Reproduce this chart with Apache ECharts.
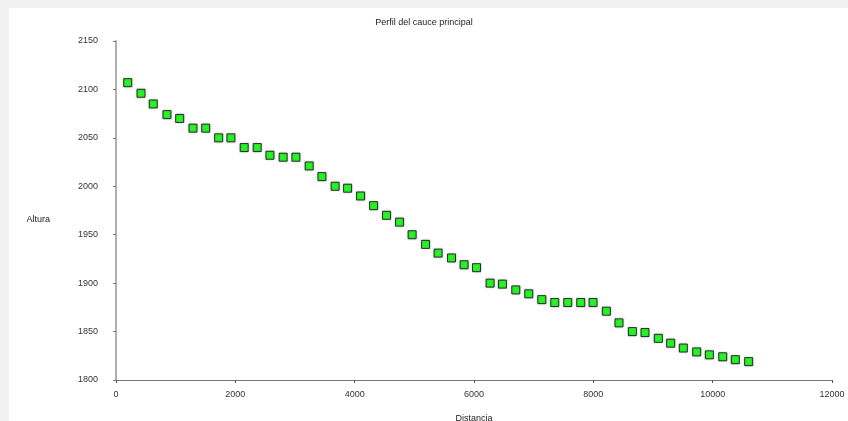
<!DOCTYPE html>
<html>
<head>
<meta charset="utf-8">
<script src="https://cdn.jsdelivr.net/npm/echarts@6/dist/echarts.min.js"></script>
<style>
html,body{margin:0;padding:0;background:#f1f1f1;}
#chart{width:848px;height:421px;}
</style>
</head>
<body>
<div id="chart"></div>
<script>
var distancia = [196, 419, 625, 854, 1067, 1290, 1503, 1720, 1926, 2149,
  2367, 2580, 2802, 3015, 3238, 3451, 3673, 3881, 4099, 4317,
  4534, 4752, 4963, 5188, 5399, 5623, 5834, 6042, 6270, 6477,
  6700, 6918, 7136, 7353, 7571, 7789, 7995, 8219, 8430, 8655,
  8866, 9090, 9296, 9509, 9732, 9945, 10168, 10380, 10603];
var altura = [2107, 2096, 2085, 2074, 2070, 2060, 2060, 2050, 2050, 2040,
  2040, 2032, 2030, 2030, 2021, 2010, 2000, 1998, 1990, 1980,
  1970, 1963, 1950, 1940, 1931, 1926, 1919, 1916, 1900, 1899,
  1893, 1889, 1883, 1880, 1880, 1880, 1880, 1871, 1859, 1850,
  1849, 1843, 1838, 1833, 1829, 1826, 1824, 1821, 1819];
var xTicks = [0, 2000, 4000, 6000, 8000, 10000, 12000];
var yTicks = [1800, 1850, 1900, 1950, 2000, 2050, 2100, 2150];

var points = distancia.map(function (d, i) { return [d, altura[i]]; });
var chart = echarts.init(document.getElementById('chart'));
chart.setOption({
  backgroundColor: '#f1f1f1',
  animation: false,
  graphic: [{
    type: 'rect', z: -10, silent: true,
    shape: { x: 9, y: 8, width: 839, height: 413 },
    style: { fill: '#ffffff' }
  }],
  title: {
    text: 'Perfil del cauce principal',
    left: 'center', top: 13,
    textStyle: { fontFamily: 'Liberation Sans', fontSize: 9, fontWeight: 'normal', color: '#222' }
  },
  grid: { left: 116, right: 16, top: 41, bottom: 41, containLabel: false, outerBoundsMode: 'none' },
  xAxis: {
    type: 'value', min: xTicks[0], max: xTicks[xTicks.length - 1], interval: 2000,
    name: 'Distancia', nameLocation: 'middle', nameGap: 34,
    nameTextStyle: { fontFamily: 'Liberation Sans', fontSize: 9, color: '#222' },
    axisLine: { show: true, lineStyle: { color: '#777', width: 1 } },
    axisTick: { show: true, length: 3, lineStyle: { color: '#555' } },
    axisLabel: { fontFamily: 'Liberation Sans', fontSize: 9, color: '#333', margin: 10,
      formatter: function (v) { return String(v); } },
    splitLine: { show: false }
  },
  yAxis: {
    type: 'value', min: yTicks[0], max: yTicks[yTicks.length - 1], interval: 50,
    name: 'Altura', nameLocation: 'middle', nameRotate: 0, nameGap: 66,
    nameTextStyle: { fontFamily: 'Liberation Sans', fontSize: 9, color: '#222', align: 'right',
      verticalAlign: 'top', padding: [5, 0, 0, 0] },
    axisLine: { show: true, lineStyle: { color: '#b0b0b0', width: 2 } },
    axisTick: { show: true, length: 3, lineStyle: { color: '#777' } },
    axisLabel: { fontFamily: 'Liberation Sans', fontSize: 9, color: '#333', margin: 18,
      formatter: function (v) { return String(v); } },
    splitLine: { show: false }
  },
  series: [{
    type: 'scatter',
    data: points,
    symbol: 'rect',
    symbolSize: 8,
    itemStyle: {
      color: '#00ff00', borderColor: '#111', borderWidth: 1,
      shadowBlur: 2, shadowColor: 'rgba(0,0,0,0.3)'
    }
  }]
});
</script>
</body>
</html>
